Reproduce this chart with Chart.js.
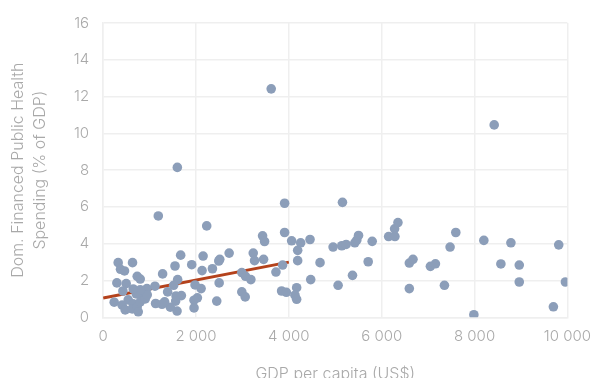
<!DOCTYPE html>
<html>
<head>
<meta charset="utf-8">
<script src="https://cdn.jsdelivr.net/npm/chart.js@4"></script>
<style>
  html, body { margin: 0; padding: 0; background: #fff; overflow: hidden; }
  #wrap { position: relative; width: 601px; height: 388px; }
</style>
</head>
<body>
<div id="wrap"><canvas id="healthChart"></canvas></div>
<script>
// GDP per capita (US$) for each country
const gdpPerCapita = [
    3620, 8423, 1598, 1188, 2231, 3909, 3909, 4060, 3434, 3477,
    3233, 3261, 3456, 3866, 3722, 2714, 2512, 2491, 2354, 2153,
    2131, 1908, 1670, 1548, 1281, 1605, 1519, 1116, 943, 857,
    1389, 1685, 1570, 1980, 2110, 2030, 1958, 1958, 1592, 1562,
    1447, 1324, 1268, 1130, 2447, 2499, 2987, 3067, 3182, 2987,
    3060, 3844, 3946, 4168, 4132, 4168, 4190, 4190, 4255, 4456,
    4672, 4471, 5155, 4953, 5140, 5234, 5421, 5464, 5501, 5795,
    5709, 5371, 5061, 6149, 6285, 6278, 6350, 6595, 6674, 6595,
    7049, 7157, 7351, 7473, 7596, 7985, 8200, 8567, 8783, 8963,
    8963, 9698, 9813, 9957, 324, 374, 460, 633, 734, 799,
    296, 497, 425, 238, 410, 475, 540, 648, 626, 734,
    799, 842, 907, 950, 756, 713, 799, 648
];
// Domestically financed public health spending (% of GDP)
const healthSpending = [
    12.42, 10.46, 8.15, 5.51, 4.97, 6.2, 4.61, 4.16, 4.43, 4.12,
    3.49, 3.08, 3.15, 2.84, 2.46, 3.49, 3.15, 3.06, 2.64, 3.33,
    2.54, 2.86, 3.38, 2.79, 2.36, 2.05, 1.74, 1.69, 1.56, 1.38,
    1.38, 1.18, 1.16, 1.76, 1.56, 1.06, 0.93, 0.51, 0.34, 0.88,
    0.55, 0.84, 0.71, 0.75, 0.88, 1.87, 2.43, 2.23, 2.05, 1.38,
    1.11, 1.43, 1.36, 1.61, 1.2, 0.98, 3.64, 3.08, 4.05, 4.23,
    2.97, 2.05, 6.25, 3.82, 3.89, 3.96, 4.05, 4.2, 4.45, 4.13,
    3.02, 2.28, 1.74, 4.39, 4.39, 4.81, 5.15, 2.95, 3.15, 1.56,
    2.77, 2.91, 1.74, 3.82, 4.61, 0.14, 4.18, 2.9, 4.05, 2.84,
    1.92, 0.57, 3.94, 1.92, 2.97, 2.61, 2.52, 2.97, 2.23, 2.08,
    1.87, 1.83, 1.43, 0.82, 0.66, 0.4, 0.95, 0.73, 0.46, 0.57,
    0.84, 1.0, 1.0, 1.22, 0.3, 1.27, 1.49, 1.54
];
// Fitted trend line end points
const trendX = [0, 4000];
const trendY = [1.05, 3.0];

const xTicks = [0, 2000, 4000, 6000, 8000, 10000];

// Ghép dữ liệu cho Chart.js
const points = gdpPerCapita.map((g, i) => ({ x: g, y: healthSpending[i] }));
const trend = trendX.map((g, i) => ({ x: g, y: trendY[i] }));

const txtColor = '#a9a9a9';
const gridColor = '#efefef';

Chart.defaults.font.family = 'Inter, "Noto Sans", sans-serif';
Chart.defaults.font.weight = 300;

const ctx = document.getElementById('healthChart').getContext('2d');
const healthChart = new Chart(ctx, {
    type: 'scatter',
    data: {
        datasets: [{
            label: 'Countries',
            data: points,
            backgroundColor: '#8c9eb9',
            borderWidth: 0,
            pointRadius: 4.8,
            pointHoverRadius: 4.8
        }, {
            label: 'Trend',
            type: 'line',
            data: trend,
            borderColor: '#b4421c',
            borderWidth: 3,
            pointRadius: 0,
            fill: false
        }]
    },
    options: {
        responsive: true,
        maintainAspectRatio: false,
        animation: false,
        layout: { padding: { top: 7, left: 3 } },
        plugins: {
            legend: { display: false },
            tooltip: { enabled: false }
        },
        scales: {
            x: {
                type: 'linear',
                min: 0,
                max: 10000,
                afterBuildTicks: axis => { axis.ticks = xTicks.map(v => ({ value: v })); },
                ticks: {
                    color: txtColor,
                    font: { size: 15 },
                    padding: 10,
                    maxRotation: 0,
                    callback: v => String(v).replace(/\B(?=(\d{3})+(?!\d))/g, ' ')
                },
                grid: { color: gridColor, lineWidth: 1.5, drawTicks: false },
                border: { color: gridColor, width: 1.5 },
                title: {
                    display: true,
                    text: 'GDP per capita (US$)',
                    color: txtColor,
                    font: { size: 16 },
                    padding: { top: 9.5 }
                }
            },
            y: {
                min: 0,
                max: 16,
                ticks: {
                    stepSize: 2,
                    color: txtColor,
                    font: { size: 15 },
                    padding: 14
                },
                grid: { color: gridColor, lineWidth: 1.5, drawTicks: false },
                border: { color: gridColor, width: 1.5 },
                title: {
                    display: true,
                    text: ['Dom. Financed Public Health', 'Spending (% of GDP)'],
                    color: txtColor,
                    font: { size: 16, lineHeight: 1.4 },
                    padding: { bottom: 8 }
                }
            }
        }
    }
});
</script>
</body>
</html>
